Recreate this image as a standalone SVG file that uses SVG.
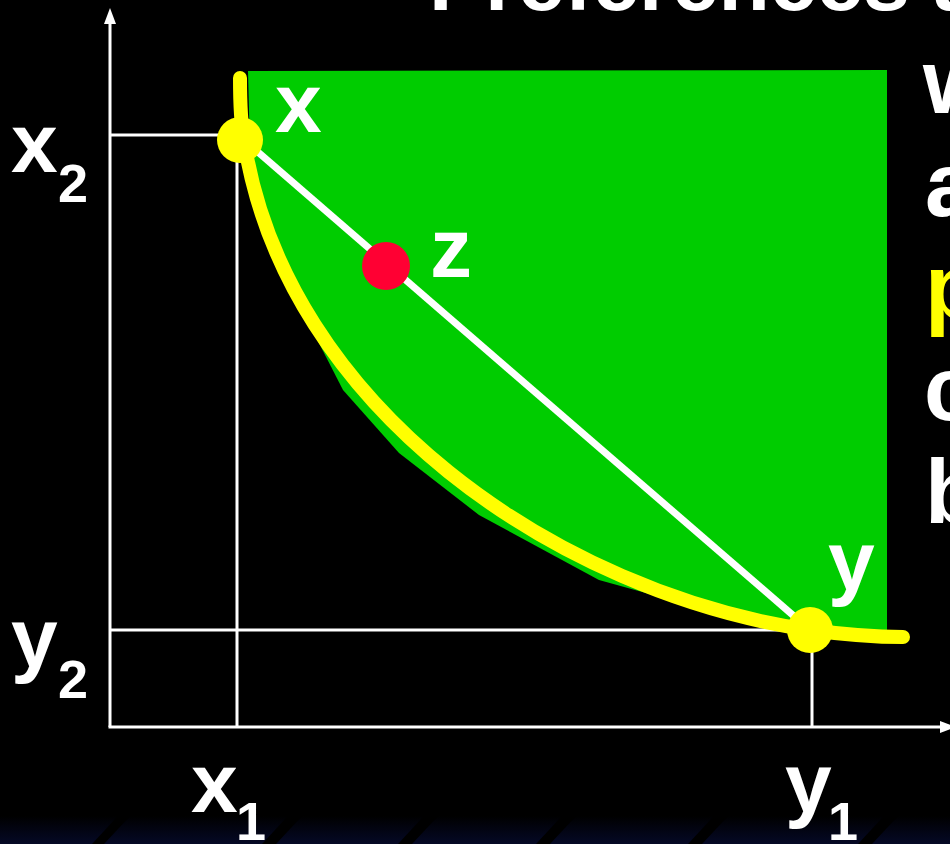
<svg xmlns="http://www.w3.org/2000/svg" width="950" height="844" viewBox="0 0 950 844">
<defs>
<style>
.lbl{font-family:"Liberation Sans",Arial,sans-serif;font-weight:bold;fill:#fff}
.big{font-size:84px}
.sub{font-size:54px}
.rt{font-family:"Liberation Sans",Arial,sans-serif;font-weight:bold;font-size:90px;fill:#fff}
.axis{stroke:#fff;stroke-width:3;fill:none}
</style>
<linearGradient id="bg" x1="0" y1="0" x2="0" y2="1">
<stop offset="0" stop-color="#000"/>
<stop offset="1" stop-color="#050926"/>
</linearGradient>
</defs>
<rect width="950" height="844" fill="#000"/>
<g id="background-band">
<rect x="0" y="816" width="950" height="28" fill="url(#bg)"/>
<g fill="#000">
<polygon points="92,844 118,816 130,816 104,844"/>
<polygon points="262,844 288,816 302,816 276,844"/>
<polygon points="398,844 424,816 438,816 412,844"/>
<polygon points="536,844 562,816 576,816 550,844"/>
<polygon points="688,844 714,816 728,816 702,844"/>
<polygon points="858,844 884,816 898,816 872,844"/>
</g>
</g>
<g id="title">
<text class="lbl" x="429" y="10" font-size="84">Preferences a</text>
</g>
<g id="right-text">
<text class="rt" x="923" y="113">w</text>
<text class="rt" x="925" y="216">a</text>
<text class="rt" x="925" y="318" style="fill:#ffff00">p</text>
<text class="rt" x="924" y="420">c</text>
<text class="rt" x="925" y="523">b</text>
</g>
<g id="preferred-set">
<polygon points="248,71 887,70 887,631 810,632 700,608 599,580 479,515 399,453 343,390 279,265 250,150" fill="#00cc00"/>
</g>
<g id="axes">
<line class="axis" x1="110" y1="20" x2="110" y2="727"/>
<line class="axis" x1="108.5" y1="727" x2="942" y2="727"/>
<polygon points="110,8 104,24 116,24" fill="#fff"/>
<polygon points="956,727 940,721 940,733" fill="#fff"/>
</g>
<g id="connectors">
<line class="axis" x1="110" y1="135" x2="240" y2="135"/>
<line class="axis" x1="237" y1="135" x2="237" y2="727"/>
<line class="axis" x1="110" y1="630" x2="810" y2="630"/>
<line class="axis" x1="812" y1="630" x2="812" y2="727"/>
<line x1="244" y1="140" x2="810" y2="630" stroke="#fff" stroke-width="7"/>
</g>
<g id="indifference-curve">
<path d="M240,78 C240,105 241,125 244,140 C285,408 560,594 810,630 C840,634 875,637 903,637" fill="none" stroke="#ffff00" stroke-width="14" stroke-linecap="round"/>
</g>
<g id="point-x">
<circle cx="240" cy="140" r="23" fill="#ffff00"/>
<text class="lbl big" x="275" y="132">x</text>
</g>
<g id="point-z">
<circle cx="386" cy="266" r="24" fill="#ff0033"/>
<text class="lbl big" x="430" y="277">z</text>
</g>
<g id="point-y">
<circle cx="810" cy="630" r="23" fill="#ffff00"/>
<text class="lbl big" x="828" y="590">y</text>
</g>
<g id="axis-labels">
<text class="lbl big" x="11" y="172">x</text>
<text class="lbl sub" x="58" y="202">2</text>
<text class="lbl big" x="11" y="667">y</text>
<text class="lbl sub" x="58" y="698">2</text>
<text class="lbl big" x="191" y="812">x</text>
<text class="lbl sub" x="236" y="840">1</text>
<text class="lbl big" x="785" y="812">y</text>
<text class="lbl sub" x="828" y="840">1</text>
</g>
</svg>
